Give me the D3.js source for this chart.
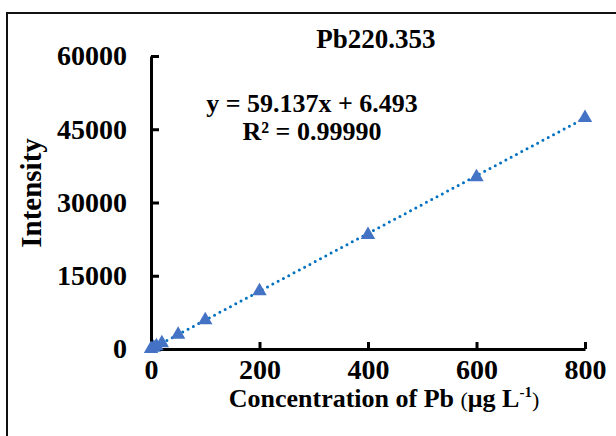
<!DOCTYPE html>
<html>
<head>
<meta charset="utf-8">
<script src="https://cdn.jsdelivr.net/npm/d3@7"></script>
<style>
  body { margin: 0; background: #fff; }
  text { font-family: "Liberation Serif", "Times New Roman", serif; font-weight: bold; fill: #000; }
</style>
</head>
<body>
<svg id="vis" width="616" height="436"></svg>
<script>
const svg = d3.select("#vis");

// calibration points
const concentrations = [0, 5, 10, 20, 50, 100, 200, 400, 600, 800];
const intensities = [20, 300, 600, 1190, 2960, 5920, 11850, 23400, 35200, 47350];
const xTicks = [0, 200, 400, 600, 800];
const yTicks = [0, 15000, 30000, 45000, 60000];
const slope = 59.137, intercept = 6.493;

const x = d3.scaleLinear().domain([0, 800]).range([151, 585]);
const y = d3.scaleLinear().domain([0, 60000]).range([349, 56]);

// outer frame (runs off the right / bottom edge)
svg.append("rect")
  .attr("x", 7).attr("y", 13)
  .attr("width", 640).attr("height", 460)
  .attr("fill", "none").attr("stroke", "#111").attr("stroke-width", 2);

// trendline
svg.append("line")
  .attr("x1", x(0)).attr("y1", y(intercept))
  .attr("x2", x(800)).attr("y2", y(slope * 800 + intercept))
  .attr("stroke", "#0070c0").attr("stroke-width", 3)
  .attr("stroke-linecap", "round")
  .attr("stroke-dasharray", "0 6");

// axes
const xAxis = svg.append("g").attr("transform", `translate(0,${y(0)})`)
  .call(d3.axisBottom(x).tickValues(xTicks).tickSizeInner(-7).tickSizeOuter(0).tickPadding(10).tickFormat(d3.format("d")));
const yAxis = svg.append("g").attr("transform", `translate(${x(0)},0)`)
  .call(d3.axisLeft(y).tickValues(yTicks).tickSizeInner(-8).tickSizeOuter(0).tickPadding(24).tickFormat(d3.format("d")));
[xAxis, yAxis].forEach(g => {
  g.select(".domain").attr("stroke", "#000").attr("stroke-width", 3);
  g.selectAll(".tick line").attr("stroke", "#000").attr("stroke-width", 3);
  g.selectAll(".tick text").attr("font-size", 28).attr("font-family", null);
});
xAxis.selectAll(".tick").filter(d => d === 0).select("line").remove();
yAxis.selectAll(".tick").filter(d => d === 0).select("line").remove();

// markers
const tri = d3.symbol().type(d3.symbolTriangle).size(90);
svg.selectAll(".pt").data(concentrations).join("path")
  .attr("class", "pt")
  .attr("d", tri)
  .attr("transform", (d, i) => `translate(${x(d)},${y(intensities[i])})`)
  .attr("fill", "#4472c4");

// texts
svg.append("text").attr("x", 376).attr("y", 48).attr("text-anchor", "middle")
  .attr("font-size", 27).text("Pb220.353");
svg.append("text").attr("x", 312).attr("y", 112).attr("text-anchor", "middle")
  .attr("font-size", 26).text("y = 59.137x + 6.493");
svg.append("text").attr("x", 312).attr("y", 140).attr("text-anchor", "middle")
  .attr("font-size", 26).text("R² = 0.99990");

svg.append("text").attr("transform", "translate(41,193) rotate(-90)")
  .attr("text-anchor", "middle").attr("font-size", 29).text("Intensity");

const xl = svg.append("text").attr("x", 384).attr("y", 407).attr("text-anchor", "middle")
  .attr("font-size", 26);
xl.append("tspan").text("Concentration of Pb ");
xl.append("tspan").attr("font-size", 22).attr("font-weight", "normal").text("(");
xl.append("tspan").text("μg L");
xl.append("tspan").attr("font-size", 15).attr("dy", -10).text("-1");
xl.append("tspan").attr("font-size", 22).attr("font-weight", "normal").attr("dy", 10).text(")");
</script>
</body>
</html>
